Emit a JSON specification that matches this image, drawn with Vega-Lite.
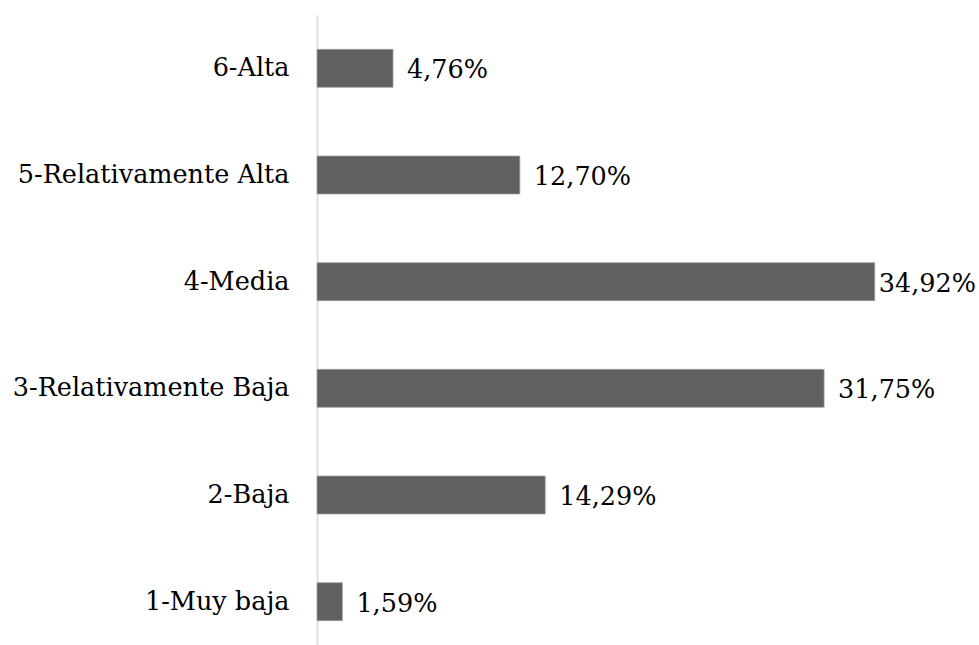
{
  "$schema": "https://vega.github.io/schema/vega-lite/v6.json",
  "autosize": {"type": "none"},
  "width": 559,
  "height": 640,
  "padding": {"left": 317, "top": 15, "right": 103, "bottom": 0},
  "background": "white",
  "config": {"view": {"stroke": null}, "font": "DejaVu Serif"},
  "data": {"values": [
    {"cat": "6-Alta", "pct": 4.76, "label": "4,76%"},
    {"cat": "5-Relativamente Alta", "pct": 12.70, "label": "12,70%"},
    {"cat": "4-Media", "pct": 34.92, "label": "34,92%"},
    {"cat": "3-Relativamente Baja", "pct": 31.75, "label": "31,75%"},
    {"cat": "2-Baja", "pct": 14.29, "label": "14,29%"},
    {"cat": "1-Muy baja", "pct": 1.59, "label": "1,59%"}
  ]},
  "encoding": {
    "y": {"field": "cat", "type": "nominal", "sort": null,
      "scale": {"paddingInner": 0.644, "paddingOuter": 0.322},
      "axis": {"title": null, "ticks": false, "domainColor": "#d9d9d9", "domainWidth": 1.5,
        "labelFont": "DejaVu Serif", "labelFontSize": 25.5, "labelLimit": 0, "labelColor": "#000000", "labelPadding": 28}},
    "x": {"field": "pct", "type": "quantitative", "scale": {"domain": [0, 35], "nice": false}, "axis": null}
  },
  "layer": [
    {"mark": {"type": "bar", "fill": "#606060", "stroke": "#a0a0a0", "strokeWidth": 0.75}},
    {"transform": [{"filter": "datum.pct < 34"}],
     "mark": {"type": "text", "align": "left", "baseline": "middle", "dx": 14, "dy": 2, "fontSize": 25.5, "font": "DejaVu Serif", "color": "#000000"},
     "encoding": {"text": {"field": "label"}}},
    {"transform": [{"filter": "datum.pct >= 34"}],
     "mark": {"type": "text", "align": "left", "baseline": "middle", "dx": 4, "dy": 2, "fontSize": 25.5, "font": "DejaVu Serif", "color": "#000000"},
     "encoding": {"text": {"field": "label"}}}
  ]
}
